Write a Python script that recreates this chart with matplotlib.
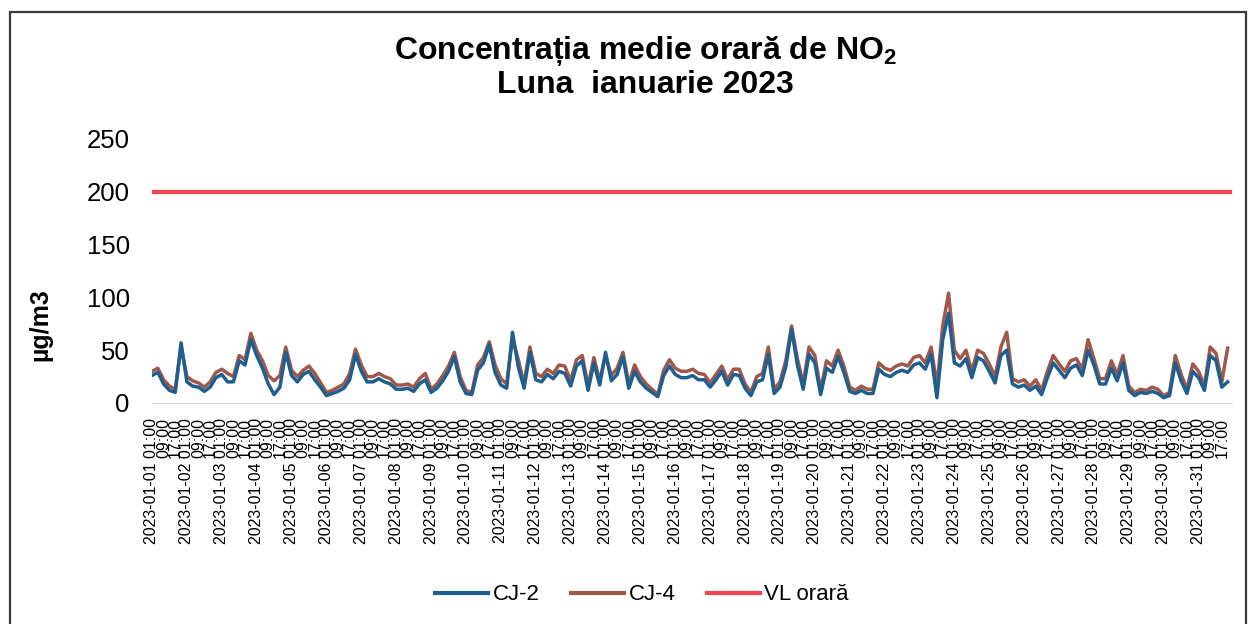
import pandas as pd
import matplotlib
matplotlib.use("Agg")
import matplotlib.pyplot as plt
from matplotlib.patches import Rectangle
from matplotlib.lines import Line2D

plt.rcParams['font.family'] = ['Liberation Sans', 'DejaVu Sans']
plt.rcParams['mathtext.fontset'] = 'custom'
plt.rcParams['mathtext.rm'] = 'Liberation Sans:bold'
plt.rcParams['mathtext.bf'] = 'Liberation Sans:bold'

# NO2 hourly means, one value every 4 hours from 2023-01-01 01:00
cj2 = [26, 29, 18, 12, 10, 57, 20, 16, 15, 11, 15, 24,
       27, 20, 20, 40, 36, 60, 45, 33, 18, 8, 15, 48,
       26, 20, 27, 30, 22, 15, 7, 9, 11, 14, 22, 46,
       30, 20, 20, 23, 20, 18, 13, 13, 14, 11, 18, 22,
       10, 14, 21, 30, 44, 20, 9, 8, 31, 38, 55, 29,
       17, 14, 67, 34, 14, 48, 22, 20, 27, 23, 30, 28,
       16, 35, 40, 12, 38, 17, 48, 21, 27, 44, 14, 30,
       20, 14, 10, 6, 26, 35, 27, 24, 24, 26, 22, 22,
       15, 22, 30, 17, 27, 26, 14, 7, 20, 22, 46, 9,
       15, 34, 70, 36, 13, 46, 38, 8, 33, 29, 44, 29,
       11, 9, 12, 9, 9, 32, 27, 25, 29, 31, 29, 36,
       38, 32, 46, 5, 60, 85, 38, 35, 42, 24, 43, 40,
       30, 19, 45, 50, 18, 15, 17, 12, 16, 8, 24, 38,
       31, 24, 33, 36, 26, 50, 36, 18, 18, 33, 21, 38,
       12, 7, 10, 9, 11, 9, 5, 7, 38, 21, 9, 30,
       24, 12, 45, 40, 15, 20]

cj4 = [30, 33, 22, 16, 13, 53, 25, 21, 19, 15, 20, 29,
       32, 28, 25, 45, 41, 66, 50, 40, 26, 21, 26, 53,
       31, 25, 31, 35, 28, 19, 10, 12, 15, 18, 28, 51,
       36, 25, 25, 28, 25, 23, 17, 17, 18, 15, 23, 28,
       13, 18, 26, 35, 48, 25, 12, 10, 36, 43, 58, 36,
       23, 18, 61, 41, 18, 53, 28, 25, 32, 28, 36, 35,
       21, 41, 45, 16, 43, 21, 45, 26, 33, 48, 18, 36,
       25, 18, 13, 8, 31, 41, 33, 30, 30, 32, 28, 27,
       19, 27, 35, 22, 32, 32, 18, 10, 25, 28, 53, 13,
       20, 40, 73, 42, 18, 53, 45, 12, 40, 35, 50, 35,
       15, 12, 16, 13, 13, 38, 33, 31, 35, 37, 35, 43,
       45, 38, 53, 16, 73, 104, 50, 42, 50, 30, 50, 47,
       37, 25, 53, 67, 23, 20, 22, 16, 22, 12, 30, 45,
       37, 30, 40, 42, 32, 60, 42, 23, 23, 40, 27, 45,
       16, 10, 13, 12, 15, 13, 7, 10, 45, 27, 13, 37,
       30, 16, 53, 47, 20, 52]

vl_orara = 200
y_ticks = [0, 50, 100, 150, 200, 250]

times = pd.date_range("2023-01-01 01:00", periods=len(cj4), freq="4h")
# category labels every 8 hours; the first one of each day carries the date
tick_times = pd.date_range("2023-01-01 01:00", "2023-01-31 17:00", freq="8h")
tick_labels = [t.strftime("%Y-%m-%d %H:%M") if t.hour == 1 else t.strftime("%H:%M")
               for t in tick_times]

W, H = 1251, 624
fig = plt.figure(figsize=(W / 100, H / 100), dpi=100)
ax = fig.add_axes([152 / W, 1 - 403 / H, 1080 / W, 264 / H])

ax.plot(times, cj2, color='#1f5f8f', lw=2.5, label='CJ-2', zorder=3)
ax.plot(times, cj4, color='#a0584a', lw=2.5, label='CJ-4', zorder=2)
ax.axhline(vl_orara, color='#ee4550', lw=3, label='VL orară', zorder=1)

ax.set_xlim(times[0], pd.Timestamp("2023-02-01 00:00"))
ax.set_ylim(0, 250)
ax.set_yticks(y_ticks)
ax.tick_params(axis='y', length=0, pad=16, labelsize=18.5)
ax.set_xticks(tick_times)
ax.set_xticklabels(tick_labels, rotation=90, ha='center', va='top', fontsize=11.5)
ax.tick_params(axis='x', length=0, pad=11)

for s in ['left', 'right', 'top']:
    ax.spines[s].set_visible(False)
ax.spines['bottom'].set_color('#d9d9d9')

ax.set_ylabel('µg/m3', fontsize=18, fontweight='bold')
ax.yaxis.set_label_coords(-100 / 1080, (403 - 325) / 264)

fig.text(645 / W, 1 - 51 / H, 'Concentrația medie orară de NO$_2$',
         ha='center', va='center', fontsize=23, fontweight='bold')
fig.text(645 / W, 1 - 85 / H, 'Luna  ianuarie 2023',
         ha='center', va='center', fontsize=23, fontweight='bold')

handles = [Line2D([], [], color='#1f5f8f', lw=3),
           Line2D([], [], color='#a0584a', lw=3),
           Line2D([], [], color='#ee4550', lw=3)]
fig.legend(handles, ['CJ-2', 'CJ-4', 'VL orară'], loc='center',
           bbox_to_anchor=(642 / W, 1 - 595 / H), ncol=3, frameon=False,
           fontsize=16, handlelength=2.4, handletextpad=0.2, columnspacing=1.4)

fig.add_artist(Rectangle((10 / W, -0.05), 1236 / W, 1.05 - 12 / H,
                         transform=fig.transFigure, fill=False,
                         lw=1.6, ec='#3a3a3a'))

fig.savefig('out.png', dpi=100, facecolor='white')
